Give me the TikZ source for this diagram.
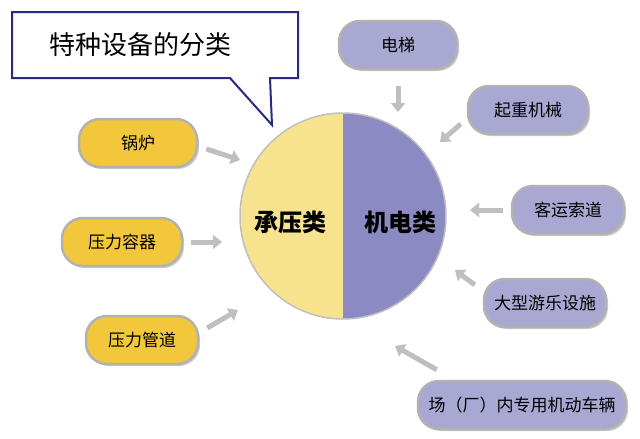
\documentclass[tikz,border=0pt]{standalone}
\usepackage{fontspec}
\newfontfamily\cjk{Noto Sans CJK SC}
\usetikzlibrary{arrows.meta,shadows}
\definecolor{yel}{HTML}{F2C73C}
\definecolor{lyel}{HTML}{F7E28E}
\definecolor{lav}{HTML}{A9A8D2}
\definecolor{dlav}{HTML}{8C8AC2}
\definecolor{navy}{HTML}{2A2A80}
\tikzset{
 pill/.style={rounded corners=21pt,minimum height=48pt,draw=gray!60,line width=2.5pt,font=\cjk\fontsize{17}{17}\selectfont,drop shadow={shadow xshift=2pt,shadow yshift=-2pt,opacity=0.4}},
 ypill/.style={pill,fill=yel},
 lpill/.style={pill,fill=lav},
 arr/.style={-{Triangle[length=9pt,width=14pt]},line width=5pt,gray!50}
}
\begin{document}
\begin{tikzpicture}[x=1pt,y=-1pt]
\useasboundingbox[fill=white] (0,0) rectangle (640,439);
% callout
\draw[navy,line width=2pt,fill=white] (12,12) -- (298,12) -- (298,78) -- (270,78) -- (272,125) -- (230,78) -- (12,78) -- cycle;
\node[font=\cjk\fontsize{26}{26}\selectfont] (title) at (140,45) {特种设备的分类};
% circle
\coordinate (c) at (343,216);
\begin{scope}
\clip (c) circle[radius=103];
\fill[lyel] (230,100) rectangle (343,330);
\fill[dlav] (343,100) rectangle (460,330);
\end{scope}
\draw[gray!50,line width=1.5pt] (c) circle[radius=103];
\node[font=\cjk\bfseries\fontsize{24}{24}\selectfont] (cy) at (290,222) {承压类};
\node[font=\cjk\bfseries\fontsize{24}{24}\selectfont] (cj) at (400,222) {机电类};
% left
\node[ypill,minimum width=118pt] (a1) at (138,143) {锅炉};
\node[ypill,minimum width=120pt] (a2) at (122,242) {压力容器};
\node[ypill,minimum width=112pt] (a3) at (142,340) {压力管道};
% right
\node[lpill,minimum width=118pt] (b1) at (398,45) {电梯};
\node[lpill,minimum width=120pt] (b2) at (528,110) {起重机械};
\node[lpill,minimum width=112pt] (b3) at (568,210) {客运索道};
\node[lpill,minimum width=122pt] (b4) at (545,303) {大型游乐设施};
\node[lpill,minimum width=208pt] (b5) at (522,405) {场（厂）内专用机动车辆};
% arrows
\coordinate (p1) at (240,160); \draw[arr] (a1.east)++(8,6) -- (p1);
\coordinate (p2) at (222,242); \draw[arr] (a2.east)++(8,0) -- (p2);
\coordinate (p3) at (238,310); \draw[arr] (a3.east)++(8,-12) -- (p3);
\coordinate (q1) at (398,112); \draw[arr] (b1.south)++(0,16) -- (q1);
\coordinate (q2) at (440,142); \draw[arr] (b2.west)++(-6,14) -- (q2);
\coordinate (q3) at (470,210); \draw[arr] (b3.west)++(-8,0) -- (q3);
\coordinate (q4) at (455,270); \draw[arr] (b4.west)++(-8,-18) -- (q4);
\coordinate (q5) at (395,346); \draw[arr] (b5.north west)++(20,-10) -- (q5);
\end{tikzpicture}
\end{document}
